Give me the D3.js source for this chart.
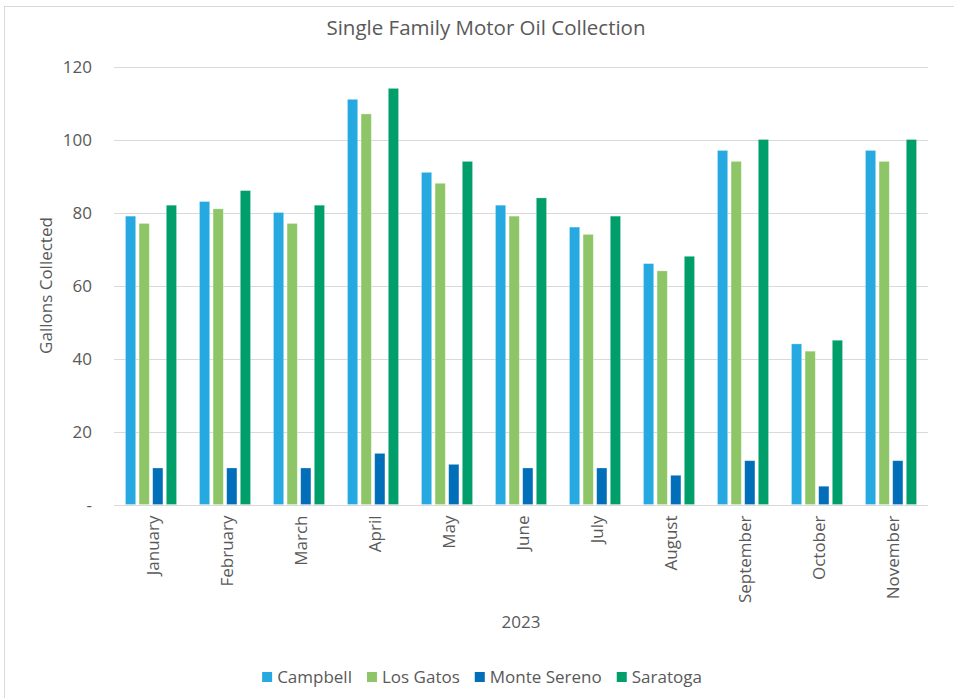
<!DOCTYPE html>
<html>
<head>
<meta charset="utf-8">
<script src="https://cdn.jsdelivr.net/npm/d3@7"></script>
<style>
  html, body { margin: 0; padding: 0; background: #fff; }
  svg text { font-family: "Open Sans", "Noto Sans", sans-serif; fill: #595959; }
</style>
</head>
<body>
<svg id="chart" width="954" height="698"></svg>
<script>
// Monthly gallons of motor oil collected, 2023
const months = ["January", "February", "March", "April", "May", "June",
                "July", "August", "September", "October", "November"];
const cities = ["Campbell", "Los Gatos", "Monte Sereno", "Saratoga"];
const campbell    = [79, 83, 80, 111, 91, 82, 76, 66, 97, 44, 97];
const losGatos    = [77, 81, 77, 107, 88, 79, 74, 64, 94, 42, 94];
const monteSereno = [10, 10, 10, 14, 11, 10, 10, 8, 12, 5, 12];
const saratoga    = [82, 86, 82, 114, 94, 84, 79, 68, 100, 45, 100];
const yTicks = [0, 20, 40, 60, 80, 100, 120];
const colors = ["#26A9E1", "#8EC667", "#006EB8", "#009E6A"];

const seriesValues = [campbell, losGatos, monteSereno, saratoga];
const rows = months.map((m, i) => ({
  month: m,
  values: cities.map((c, j) => ({ city: c, value: seriesValues[j][i] }))
}));

const svg = d3.select("#chart");
const W = 954, H = 698;
const plot = { left: 114, right: 928, top: 66.5, bottom: 504.5 };

// outer frame
svg.append("rect")
  .attr("x", 4.5).attr("y", 6.5)
  .attr("width", W + 20).attr("height", H + 20)
  .attr("fill", "none").attr("stroke", "#d9d9d9").attr("stroke-width", 1);

const x0 = d3.scaleBand().domain(months).range([plot.left, plot.right])
  .paddingInner(0.31).paddingOuter(0.155);
const x1 = d3.scaleBand().domain(cities).range([0, x0.bandwidth()])
  .paddingInner(0.25);
const y = d3.scaleLinear().domain([0, 120]).range([plot.bottom, plot.top]);
const color = d3.scaleOrdinal().domain(cities).range(colors);

// gridlines
svg.append("g")
  .selectAll("line")
  .data(yTicks)
  .join("line")
  .attr("x1", plot.left).attr("x2", plot.right)
  .attr("y1", d => Math.round(y(d)) + 0.5).attr("y2", d => Math.round(y(d)) + 0.5)
  .attr("stroke", "#d9d9d9").attr("stroke-width", 1);

// y axis labels
const yAxis = d3.axisLeft(y).tickValues(yTicks)
  .tickFormat(d => d === 0 ? "-" : d3.format("d")(d))
  .tickSize(0).tickPadding(22);
const gy = svg.append("g").attr("transform", `translate(${plot.left},0)`).call(yAxis);
gy.select(".domain").remove();
gy.selectAll("text")
  .style("font-size", "17px")
  .attr("dy", "0.35em")
  .attr("fill", "#595959");

// bars
const groups = svg.append("g")
  .selectAll("g")
  .data(rows)
  .join("g")
  .attr("transform", d => `translate(${x0(d.month)},0)`);

groups.selectAll("rect")
  .data(d => d.values)
  .join("rect")
  .attr("x", d => x1(d.city))
  .attr("y", d => y(d.value))
  .attr("width", x1.bandwidth())
  .attr("height", d => y(0) - y(d.value))
  .attr("fill", d => color(d.city))
  .attr("stroke", "#ffffff")
  .attr("stroke-opacity", 0.35)
  .attr("stroke-width", 0.75);

// x axis labels (rotated)
const xAxis = d3.axisBottom(x0).tickSize(0).tickPadding(0);
const gx = svg.append("g").attr("transform", `translate(0,${plot.bottom})`).call(xAxis);
gx.select(".domain").remove();
gx.selectAll("text")
  .style("font-size", "17px")
  .attr("fill", "#595959")
  .attr("transform", "rotate(-90)")
  .attr("x", -11)
  .attr("y", 2)
  .attr("dy", "0.35em")
  .attr("text-anchor", "end");

// axis titles
svg.append("text")
  .attr("transform", `translate(52,${(plot.top + plot.bottom) / 2}) rotate(-90)`)
  .attr("text-anchor", "middle")
  .style("font-size", "17px")
  .text("Gallons Collected");

svg.append("text")
  .attr("x", (plot.left + plot.right) / 2)
  .attr("y", 628)
  .attr("text-anchor", "middle")
  .style("font-size", "17px")
  .text("2023");

// title
svg.append("text")
  .attr("x", 486)
  .attr("y", 35)
  .attr("text-anchor", "middle")
  .style("font-size", "20.5px")
  .text("Single Family Motor Oil Collection");

// legend
const legend = svg.append("g");
const items = legend.selectAll("g").data(cities).join("g");
items.append("rect")
  .attr("width", 10).attr("height", 10)
  .attr("y", -5)
  .attr("fill", d => color(d));
items.append("text")
  .attr("x", 15)
  .attr("dy", "0.35em")
  .style("font-size", "17px")
  .text(d => d);
let cx = 0;
items.each(function () {
  d3.select(this).attr("transform", `translate(${cx},677)`);
  cx += 15 + this.querySelector("text").getComputedTextLength() + 15;
});
const legendWidth = cx - 15;
legend.attr("transform", `translate(${482 - legendWidth / 2},0)`);
</script>
</body>
</html>
